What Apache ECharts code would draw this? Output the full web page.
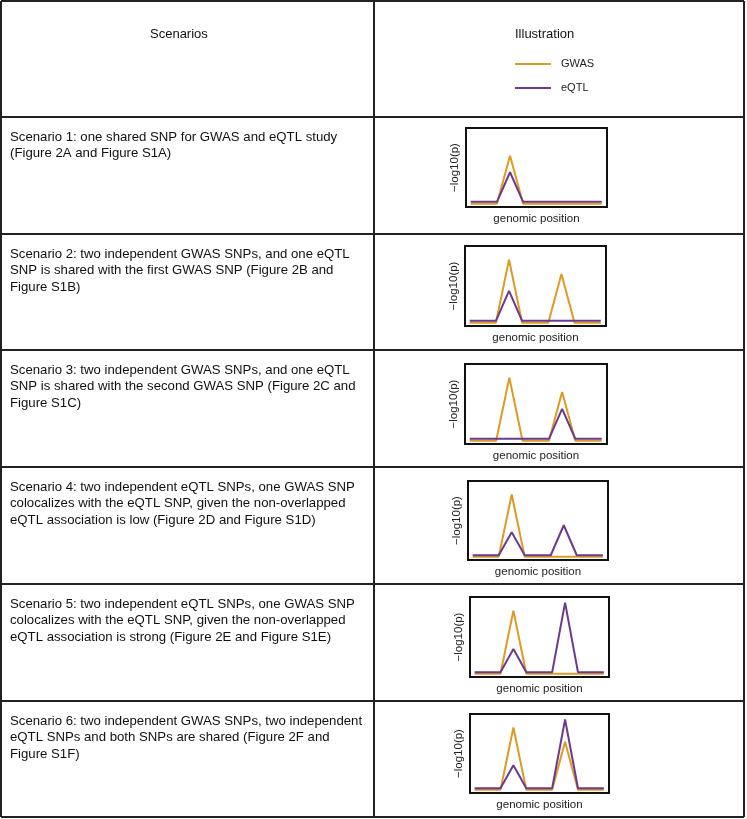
<!DOCTYPE html>
<html><head><meta charset="utf-8">
<script src="https://cdn.jsdelivr.net/npm/echarts@6/dist/echarts.min.js"></script>
<style>html,body{margin:0;padding:0;background:#fff}#c{width:747px;height:819px}</style>
</head><body><div id="c"></div>
<script>
// ---- data ----
const headers = ['Scenarios', 'Illustration'];
const seriesNames = ['GWAS', 'eQTL'];
const xAxisName = 'genomic position';
const yAxisName = '\u2212log10(p)';
const positions = [0, 2, 3, 4, 6, 7, 8, 10];

const gwas1 = [4, 4, 65, 4, 4, 4, 4, 4];
const eqtl1 = [6.5, 6.5, 44, 6.5, 6.5, 6.5, 6.5, 6.5];
const gwas2 = [4, 4, 83, 4, 4, 65, 4, 4];
const eqtl2 = [6.5, 6.5, 44, 6.5, 6.5, 6.5, 6.5, 6.5];
const gwas3 = [4, 4, 83, 4, 4, 65, 4, 4];
const eqtl3 = [6.5, 6.5, 6.5, 6.5, 6.5, 44, 6.5, 6.5];
const gwas4 = [4, 4, 83, 4, 4, 4, 4, 4];
const eqtl4 = [6, 6, 35, 6, 6, 44, 6, 6];
const gwas5 = [4, 4, 83, 4, 4, 4, 4, 4];
const eqtl5 = [6, 6, 35, 6, 6, 93, 6, 6];
const gwas6 = [4, 4, 83, 4, 4, 65, 4, 4];
const eqtl6 = [6, 6, 35, 6, 6, 93, 6, 6];

const scenarioTexts = [
  ['Scenario 1: one shared SNP for GWAS and eQTL study', '(Figure 2A and Figure S1A)'],
  ['Scenario 2: two independent GWAS SNPs, and one eQTL', 'SNP is shared with the first GWAS SNP (Figure 2B and', 'Figure S1B)'],
  ['Scenario 3: two independent GWAS SNPs, and one eQTL', 'SNP is shared with the second GWAS SNP (Figure 2C and', 'Figure S1C)'],
  ['Scenario 4: two independent eQTL SNPs, one GWAS SNP', 'colocalizes with the eQTL SNP, given the non-overlapped', 'eQTL association is low (Figure 2D and Figure S1D)'],
  ['Scenario 5: two independent eQTL SNPs, one GWAS SNP', 'colocalizes with the eQTL SNP, given the non-overlapped', 'eQTL association is strong (Figure 2E and Figure S1E)'],
  ['Scenario 6: two independent GWAS SNPs, two independent', 'eQTL SNPs and both SNPs are shared (Figure 2F and', 'Figure S1F)']
];
const gwasAll = [gwas1, gwas2, gwas3, gwas4, gwas5, gwas6];
const eqtlAll = [eqtl1, eqtl2, eqtl3, eqtl4, eqtl5, eqtl6];

// ---- layout / style ----
const FONT = "'Liberation Sans', Arial, Helvetica, sans-serif";
const ORANGE = '#E09A22';
const PURPLE = '#6A3A90';
const LINE = '#222';
const rowLines = [117, 234, 350, 467, 584, 701];
const tableLeft = 1, tableRight = 744, tableTop = 1, tableBottom = 817, colX = 374;
const gridBoxes = [
  [466, 128, 141, 79],
  [465, 246, 141, 80],
  [465, 364, 142, 80],
  [468, 481, 140, 79],
  [470, 597, 139, 80],
  [470, 714, 139, 79]
];

const chart = echarts.init(document.getElementById('c'), null, {renderer: 'canvas'});

const graphics = [];
function hline(y) {
  graphics.push({type: 'line', shape: {x1: tableLeft, y1: y, x2: tableRight, y2: y}, style: {stroke: LINE, lineWidth: 2}, z: 10});
}
function vline(x, y1, y2) {
  graphics.push({type: 'line', shape: {x1: x, y1: y1, x2: x, y2: y2}, style: {stroke: LINE, lineWidth: 2}, z: 10});
}
hline(tableTop); hline(tableBottom);
rowLines.forEach(hline);
vline(tableLeft, tableTop, tableBottom);
vline(tableRight, tableTop, tableBottom);
vline(colX, tableTop, tableBottom);

graphics.push({type: 'text', left: 150, top: 28, style: {text: headers[0], font: '13px ' + FONT, fill: '#111'}});
graphics.push({type: 'text', left: 515, top: 28, style: {text: headers[1], font: '13px ' + FONT, fill: '#111'}});

const rowTops = [117, 234, 350, 467, 584, 701];
scenarioTexts.forEach((lines, i) => {
  graphics.push({type: 'text', left: 10, top: rowTops[i] + 12,
    style: {text: lines.join('\n'), font: '13.2px ' + FONT, fill: '#111', lineHeight: 16.5}});
});

const grids = [], xAxes = [], yAxes = [], series = [];
gridBoxes.forEach((b, i) => {
  grids.push({left: b[0], top: b[1], width: b[2], height: b[3], show: true,
    borderColor: '#111', borderWidth: 2, backgroundColor: 'transparent', containLabel: false});
  xAxes.push({type: 'value', gridIndex: i, min: -0.36, max: 10.4,
    axisLine: {show: false}, axisTick: {show: false}, axisLabel: {show: false}, splitLine: {show: false},
    name: xAxisName, nameLocation: 'middle', nameGap: 6,
    nameTextStyle: {fontFamily: FONT, fontSize: 11.5, color: '#222'}});
  yAxes.push({type: 'value', gridIndex: i, min: 0, max: 100,
    axisLine: {show: false}, axisTick: {show: false}, axisLabel: {show: false}, splitLine: {show: false},
    name: yAxisName, nameLocation: 'middle', nameGap: 5, nameRotate: 90,
    nameTextStyle: {fontFamily: FONT, fontSize: 11.5, color: '#222'}});
  series.push({type: 'line', name: seriesNames[0], xAxisIndex: i, yAxisIndex: i,
    data: positions.map((x, k) => [x, gwasAll[i][k]]), symbol: 'none', silent: true,
    lineStyle: {color: ORANGE, width: 2}, itemStyle: {color: ORANGE}, animation: false});
  series.push({type: 'line', name: seriesNames[1], xAxisIndex: i, yAxisIndex: i,
    data: positions.map((x, k) => [x, eqtlAll[i][k]]), symbol: 'none', silent: true,
    lineStyle: {color: PURPLE, width: 2}, itemStyle: {color: PURPLE}, animation: false});
});

chart.setOption({
  animation: false,
  backgroundColor: '#fff',
  textStyle: {fontFamily: FONT},
  legend: {data: seriesNames, orient: 'vertical', left: 510, top: 52, itemWidth: 36, itemHeight: 2,
    icon: 'rect', itemGap: 10, selectedMode: false,
    textStyle: {fontFamily: FONT, fontSize: 11, color: '#222', lineHeight: 14, padding: [0, 0, 0, 5]}},
  grid: grids, xAxis: xAxes, yAxis: yAxes, series: series,
  graphic: graphics
});
</script></body></html>
